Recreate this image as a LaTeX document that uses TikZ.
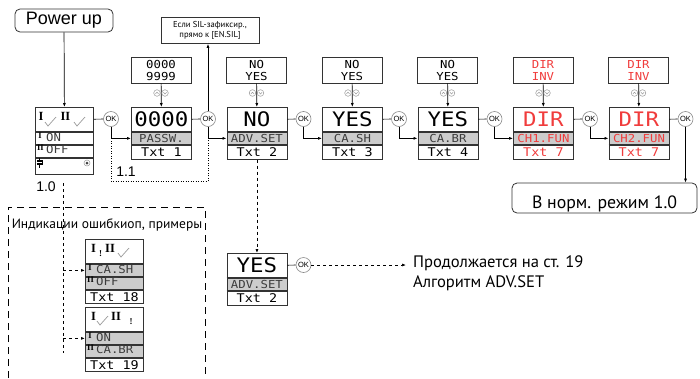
\documentclass[tikz,border=0pt]{standalone}
\usepackage{fontspec}
\setmainfont{Liberation Sans}
\newfontfamily\ruf{PT Sans}
\newfontfamily\lcdf[FakeStretch=1.12]{DejaVu Sans Mono}
\newfontfamily\romf{Liberation Serif}
\usetikzlibrary{arrows.meta,calc}
\definecolor{bord}{HTML}{333333}
\definecolor{lblgray}{HTML}{CCCCCC}
\definecolor{lcdred}{HTML}{F03C3C}
\definecolor{okgray}{HTML}{8A8A8A}
\definecolor{lbltext}{HTML}{3C3C3C}
\definecolor{icongray}{HTML}{9A9A9A}
\newcommand\lcddisp[9]{%
  \node[valrow,text=#7] (#1v) at (#2,#3) {#4};
  \node[lblrow,text=#8] (#1l) at (#1v.south west) {#5};
  \node[txtrow,text=#9] (#1t) at (#1l.south west) {#6};
  \draw[sepline] (#1v.south west) -- (#1v.south east);
  \draw[sepline] (#1l.south west) -- (#1l.south east);
}
\newcommand\updown[1]{%
  \draw[icon] (#1-4,93) circle (3.3pt);
  \draw[icon] (#1+4,93) circle (3.3pt);
  \draw[icon] (#1-5.6,94) -- (#1-4,92.2) -- (#1-2.4,94);
  \draw[icon] (#1+2.4,92.2) -- (#1+4,94) -- (#1+5.6,92.2);
}
\newcommand\chk[2]{\draw[chkline] (#1,#2) -- ++(3,4) -- ++(8,-9);}
\begin{document}
\begin{tikzpicture}[x=1pt,y=-1pt,
  >={Latex[length=4pt,width=3pt]},
  bx/.style={draw=bord,line width=0.9pt,inner sep=0pt,anchor=north west,minimum width=60pt},
  valrow/.style={bx,minimum height=24pt,font=\lcdf\fontsize{20}{20}\selectfont},
  lblrow/.style={bx,minimum height=12pt,fill=lblgray,font=\lcdf\fontsize{11}{11}\selectfont},
  txtrow/.style={bx,minimum height=14pt,font=\lcdf\fontsize{12}{12}\selectfont},
  swrow/.style={bx,minimum width=58pt},
  sepline/.style={draw=bord,line width=1.6pt},
  optbox/.style={draw=bord,line width=0.9pt,minimum width=60pt,minimum height=26pt,inner sep=0pt,align=center,font=\lcdf\fontsize{11}{12}\selectfont},
  okc/.style={circle,draw=okgray,fill=white,line width=0.6pt,minimum size=15pt,inner sep=0pt,font=\fontsize{7.5}{7.5}\selectfont},
  conn/.style={draw=black,line width=0.7pt},
  arr/.style={conn,->},
  icon/.style={draw=icongray,line width=0.5pt},
  chkline/.style={draw=icongray,line width=0.7pt},
  roman/.style={inner sep=0pt,font=\romf\bfseries\fontsize{12.5}{12.5}\selectfont},
  sup/.style={inner sep=0pt,font=\romf\bfseries\fontsize{8.5}{8.5}\selectfont},
  excl/.style={inner sep=0pt,font=\romf\bfseries\fontsize{9}{9}\selectfont},
  rowtxt/.style={inner sep=0pt,anchor=west,text=lbltext,font=\lcdf\fontsize{11}{11}\selectfont},
  shortdash/.style={conn,dash pattern=on 3pt off 3pt},
  bigdash/.style={conn,dash pattern=on 7pt off 5pt},
  dotline/.style={conn,dash pattern=on 1pt off 1.5pt},
  lbl/.style={inner sep=0pt,font=\fontsize{14}{14}\selectfont}
]
\useasboundingbox (0,0) rectangle (700,378);

% Power up
\node[draw=bord,line width=0.8pt,rounded corners=5pt,minimum width=98pt,minimum height=23pt,inner sep=0pt,font=\fontsize{18}{18}\selectfont] (power) at (64,20.5) {Power up};

% note box
\node[draw=bord,line width=0.7pt,minimum width=98pt,minimum height=26pt,inner sep=0pt,align=center,font=\ruf\fontsize{8.6}{10}\selectfont] (note) at (210,30.5) {Если SIL-зафиксир.,\\прямо к [EN.SIL]};

% switch display
\node[swrow,minimum height=24pt] (swTop) at (35,107) {};
\node[swrow,minimum height=12pt] (swOn) at (swTop.south west) {};
\node[swrow,minimum height=12pt] (swOff) at (swOn.south west) {};
\node[swrow,minimum height=16pt] (swBot) at (swOff.south west) {};
\draw[sepline] (swTop.south west) -- (swTop.south east);
\draw[sepline] (swOn.south west) -- (swOn.south east);
\draw[sepline] (swOff.south west) -- (swOff.south east);
\node[roman] (swI) at (41,116) {I};
\chk{45}{122}
\node[roman] (swII) at (65.5,116) {II};
\chk{74}{122}
\node[sup] (swOnS) at (40,135.5) {I};
\node[rowtxt] (swOnT) at (46,137.5) {ON};
\node[sup] (swOffS) at (40.5,147.5) {II};
\node[rowtxt] (swOffT) at (46,149.5) {OFF};
\fill[black] (36.5,160) rectangle (42.5,165);
\draw[black,line width=0.8pt] (39.5,157.5) -- (39.5,167.5);
\draw[white,line width=0.6pt] (37,162.5) -- (42,162.5);
\draw[icon] (87,163) circle (3pt);
\fill[black!75] (87,163) circle (1.5pt);
\node[lbl] (l10) at (46,187) {1.0};

% main displays
\lcddisp{dA}{131}{107}{0000}{PASSW.}{Txt 1}{black}{lbltext}{black}
\lcddisp{dB}{226.5}{107}{NO}{ADV.SET}{Txt 2}{black}{lbltext}{black}
\lcddisp{dC}{322}{107}{YES}{CA.SH}{Txt 3}{black}{lbltext}{black}
\lcddisp{dD}{417.5}{107}{YES}{CA.BR}{Txt 4}{black}{lbltext}{black}
\lcddisp{dE}{513}{107}{DIR}{CH1.FUN}{Txt 7}{lcdred}{lcdred}{lcdred}
\lcddisp{dF}{608.5}{107}{DIR}{CH2.FUN}{Txt 7}{lcdred}{lcdred}{lcdred}
\lcddisp{dG}{226.5}{253}{YES}{ADV.SET}{Txt 2}{black}{lbltext}{black}

% option boxes
\node[optbox] (oA) at (161,70) {0000\\9999};
\node[optbox] (oB) at (256.5,70) {NO\\YES};
\node[optbox] (oC) at (352,70) {NO\\YES};
\node[optbox] (oD) at (447.5,70) {NO\\YES};
\node[optbox,text=lcdred] (oE) at (543,70) {DIR\\INV};
\node[optbox,text=lcdred] (oF) at (638.5,70) {DIR\\INV};
\foreach \o/\d in {oA/dAv,oB/dBv,oC/dCv,oD/dDv,oE/dEv,oF/dFv}{\draw[arr] (\o) -- (\d);}
\updown{161}\updown{256.5}\updown{352}\updown{447.5}\updown{543}\updown{638.5}

% OK circles
\node[okc] (k0) at (111,119) {OK};
\node[okc] (k1) at (208,119) {OK};
\node[okc] (k2) at (303.5,119) {OK};
\node[okc] (k3) at (399,119) {OK};
\node[okc] (k4) at (494.5,119) {OK};
\node[okc] (k5) at (590,119) {OK};
\node[okc] (k6) at (685.5,119) {OK};
\node[okc] (kG) at (303.5,265) {OK};

\draw[conn] (swTop) -- (k0);
\foreach \d/\k in {dAv/k1,dBv/k2,dCv/k3,dDv/k4,dEv/k5,dFv/k6,dGv/kG}{\draw[conn] (\d) -- (\k);}
\foreach \k/\d in {k0/dAl,k1/dBl,k2/dCl,k3/dDl,k4/dEl,k5/dFl}{\draw[arr] (\k) |- (\d);}
\draw[arr] (power) -- (swTop);
\draw[arr] (k1) -- (k1 |- note.south);

% final box
\node[draw=bord,line width=0.8pt,rounded corners=5pt,minimum width=185pt,minimum height=30pt,inner sep=0pt,text height=24pt,text depth=3pt,font=\ruf\fontsize{17.8}{17.8}\selectfont] (final) at (604.5,198) {В норм. режим 1.0};
\draw[arr] (k6) -- (k6 |- final.north);

% dotted loop 1.1
\coordinate (c1) at (k0 |- dAl);
\coordinate (c2) at (k1 |- dBl);
\draw[dotline] (c1) -- ++(0,43) -| (c2);
\node[lbl] (l11) at (126,172) {1.1};

% continuation
\draw[shortdash,->] (dBt) -- (dGv);
\node[inner sep=0pt,anchor=west,font=\ruf\fontsize{16.6}{16.6}\selectfont] (t1) at (413,263) {Продолжается на ст. 19};
\node[inner sep=0pt,anchor=west,font=\ruf\fontsize{16.6}{16.6}\selectfont] (t2) at (413,283) {Алгоритм ADV.SET};
\coordinate (t1in) at (406,265);
\draw[shortdash,->] (kG) -- (t1in);

% error box
\draw[bigdash] (8,378) -- (8,207) -- (205,207) -- (205,378);
\node[inner sep=0pt,font=\ruf\fontsize{13.5}{13.5}\selectfont] (etitle) at (107,225) {Индикации ошибкиоп, примеры};

% error display 1
\node[swrow,minimum height=24pt] (e1a) at (85,239) {};
\node[swrow,minimum height=12pt,fill=lblgray] (e1b) at (e1a.south west) {};
\node[swrow,minimum height=12pt,fill=lblgray] (e1c) at (e1b.south west) {};
\node[swrow,minimum height=13pt] (e1d) at (e1c.south west) {};
\draw[sepline] (e1a.south west) -- (e1a.south east);
\draw[sepline] (e1b.south west) -- (e1b.south east);
\draw[sepline] (e1c.south west) -- (e1c.south east);
\node[roman] (e1I) at (93.5,248) {I};
\node[excl] (e1x) at (100.5,254) {!};
\node[roman] (e1II) at (110,248) {II};
\chk{118}{253}
\node[sup] (e1bs) at (90,267.5) {I};
\node[rowtxt] (e1bt) at (96,269.5) {CA.SH};
\node[sup] (e1cs) at (90.5,279.5) {II};
\node[rowtxt] (e1ct) at (96,281.5) {OFF};
\node[inner sep=0pt,font=\lcdf\fontsize{12}{12}\selectfont] (e1dt) at (e1d) {Txt 18};

% error display 2
\node[swrow,minimum height=24pt] (e2a) at (85,307) {};
\node[swrow,minimum height=12pt,fill=lblgray] (e2b) at (e2a.south west) {};
\node[swrow,minimum height=12pt,fill=lblgray] (e2c) at (e2b.south west) {};
\node[swrow,minimum height=13pt] (e2d) at (e2c.south west) {};
\draw[sepline] (e2a.south west) -- (e2a.south east);
\draw[sepline] (e2b.south west) -- (e2b.south east);
\draw[sepline] (e2c.south west) -- (e2c.south east);
\node[roman] (e2I) at (93.5,316) {I};
\chk{97}{321}
\node[roman] (e2II) at (116,316) {II};
\node[excl] (e2x) at (131,322) {!};
\node[sup] (e2bs) at (90,335.5) {I};
\node[rowtxt] (e2bt) at (96,337.5) {ON};
\node[sup] (e2cs) at (90.5,347.5) {II};
\node[rowtxt] (e2ct) at (96,349.5) {CA.BR};
\node[inner sep=0pt,font=\lcdf\fontsize{12}{12}\selectfont] (e2dt) at (e2d) {Txt 19};

% dashed branch from 1.0
\coordinate (dv) at (63,183);
\draw[shortdash] (dv) -- ++(0,170);
\draw[shortdash,->] (dv |- e1b) -- (e1b);
\draw[shortdash,->] (dv |- e2b) -- (e2b);
\end{tikzpicture}
\end{document}
